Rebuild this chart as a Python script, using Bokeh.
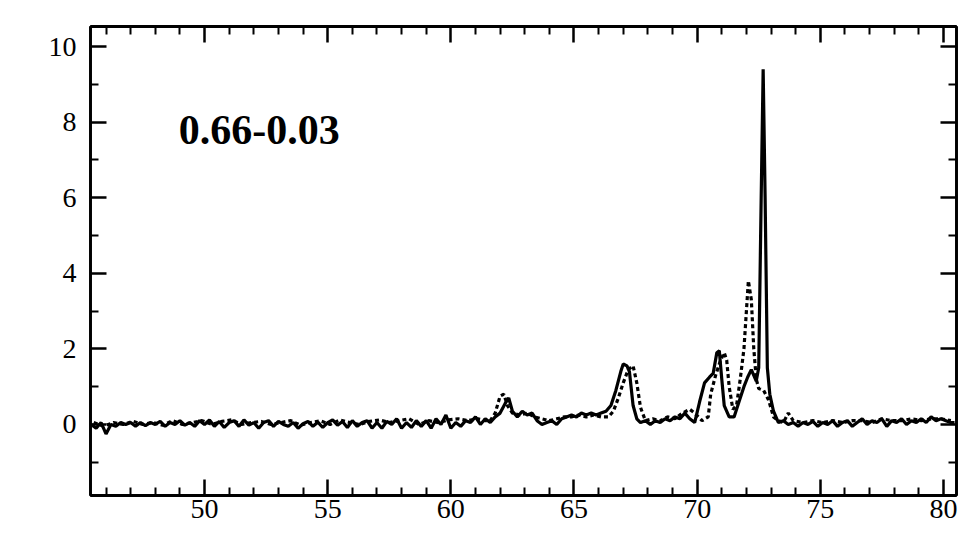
from bokeh.plotting import figure
from bokeh.models import Range1d, LinearAxis, FixedTicker, Label
from bokeh.embed import file_html
from bokeh.resources import INLINE

# ---- data ----
solid_x = [45.4, 45.6, 45.8, 46.0, 46.2, 46.4, 46.6, 46.8, 47.0, 47.2, 47.4, 47.6, 47.8, 48.0,
           48.2, 48.4, 48.6, 48.8, 49.0, 49.2, 49.4, 49.6, 49.8, 50.0, 50.2, 50.4, 50.6, 50.8,
           51.0, 51.2, 51.4, 51.6, 51.8, 52.0, 52.2, 52.4, 52.6, 52.8, 53.0, 53.2, 53.4, 53.6,
           53.8, 54.0, 54.2, 54.4, 54.6, 54.8, 55.0, 55.2, 55.4, 55.6, 55.8, 56.0, 56.2, 56.4,
           56.6, 56.8, 57.0, 57.2, 57.4, 57.6, 57.8, 58.0, 58.2, 58.4, 58.6, 58.8, 59.0, 59.2,
           59.4, 59.6, 59.8, 60.0, 60.2, 60.4, 60.6, 60.8, 61.0, 61.2, 61.4, 61.6, 61.8, 62.0,
           62.2, 62.35, 62.5, 62.7, 62.9, 63.1, 63.3, 63.5, 63.7, 63.9, 64.1, 64.3, 64.5, 64.7,
           64.9, 65.1, 65.3, 65.5, 65.7, 65.9, 66.1, 66.3, 66.5, 66.7, 66.9, 67.0, 67.15, 67.25,
           67.4, 67.55, 67.7, 67.9, 68.1, 68.3, 68.5, 68.7, 68.9, 69.1, 69.3, 69.5, 69.7, 69.9,
           70.1, 70.3, 70.5, 70.65, 70.8, 70.9, 71.0, 71.1, 71.3, 71.5, 71.7, 71.9, 72.05, 72.2,
           72.3, 72.4, 72.5, 72.6, 72.68, 72.76, 72.85, 72.95, 73.1, 73.3, 73.5, 73.7, 73.9, 74.1,
           74.3, 74.5, 74.7, 74.9, 75.1, 75.3, 75.5, 75.7, 75.9, 76.1, 76.3, 76.5, 76.7, 76.9,
           77.1, 77.3, 77.5, 77.7, 77.9, 78.1, 78.3, 78.5, 78.7, 78.9, 79.1, 79.3, 79.5, 79.7,
           79.9, 80.1, 80.3, 80.45]
solid_y = [0.0, -0.1, 0.05, -0.25, 0.0, -0.05, 0.05, 0.0, 0.05, -0.05, 0.05, -0.03, 0.05, 0.0,
           0.08, -0.05, 0.05, 0.0, 0.1, -0.02, 0.05, -0.05, 0.1, 0.0, 0.12, -0.05, 0.08, -0.08,
           0.05, 0.1, -0.05, 0.12, -0.02, 0.05, -0.1, 0.05, 0.1, -0.05, 0.08, 0.0, -0.05, 0.05,
           -0.1, 0.02, 0.08, -0.05, 0.06, -0.08, 0.05, 0.12, -0.02, 0.08, -0.08, 0.1, -0.05, 0.05,
           0.1, -0.1, 0.05, -0.1, 0.08, 0.0, 0.15, -0.1, 0.05, -0.08, 0.1, -0.05, 0.1, -0.1,
           0.15, 0.0, 0.25, -0.1, 0.05, -0.05, 0.1, 0.05, 0.2, 0.0, 0.15, 0.05, 0.2, 0.3,
           0.55, 0.7, 0.35, 0.2, 0.35, 0.25, 0.3, 0.1, 0.0, 0.05, 0.1, 0.0, 0.15, 0.2,
           0.25, 0.2, 0.3, 0.25, 0.3, 0.25, 0.3, 0.35, 0.5, 0.9, 1.4, 1.6, 1.55, 1.4,
           0.5, 0.15, 0.05, 0.1, 0.0, 0.1, 0.05, 0.15, 0.1, 0.2, 0.15, 0.3, 0.15, 0.05,
           0.6, 1.1, 1.25, 1.35, 1.9, 1.95, 1.2, 0.5, 0.2, 0.2, 0.6, 1.0, 1.25, 1.45,
           1.3, 1.15, 1.5, 6.0, 9.4, 6.0, 1.5, 0.8, 0.35, 0.05, 0.1, 0.0, 0.05, -0.05,
           0.05, 0.0, 0.08, -0.05, 0.05, 0.0, 0.1, -0.05, 0.05, 0.1, -0.05, 0.05, 0.15, 0.0,
           0.1, 0.05, 0.15, -0.05, 0.1, 0.05, 0.15, 0.0, 0.1, 0.05, 0.15, 0.05, 0.2, 0.1,
           0.15, 0.1, 0.05, 0.05]

dot_x = [45.5, 45.9, 46.3, 46.7, 47.1, 47.5, 47.9, 48.3, 48.7, 49.1, 49.5, 49.9, 50.3, 50.7,
         51.1, 51.5, 51.9, 52.3, 52.7, 53.1, 53.5, 53.9, 54.3, 54.7, 55.1, 55.5, 55.9, 56.3,
         56.7, 57.1, 57.5, 57.9, 58.3, 58.7, 59.1, 59.5, 59.9, 60.3, 60.7, 61.1, 61.4, 61.6,
         61.8, 62.0, 62.15, 62.3, 62.5, 62.8, 63.1, 63.4, 63.7, 64.0, 64.3, 64.6, 64.9, 65.2,
         65.5, 65.8, 66.1, 66.4, 66.6, 66.8, 67.0, 67.2, 67.4, 67.55, 67.7, 67.9, 68.2, 68.5,
         68.8, 69.1, 69.4, 69.7, 69.9, 70.2, 70.45, 70.55, 70.75, 70.95, 71.1, 71.2, 71.3, 71.45,
         71.6, 71.75, 71.9, 72.0, 72.08, 72.2, 72.3, 72.4, 72.5, 72.7, 72.9, 73.1, 73.3, 73.5,
         73.7, 73.9, 74.3, 74.7, 75.1, 75.5, 75.9, 76.3, 76.7, 77.1, 77.5, 77.9, 78.3, 78.7,
         79.1, 79.5, 79.9, 80.3]
dot_y = [0.05, -0.05, 0.05, 0.0, 0.08, 0.0, 0.05, -0.02, 0.1, 0.0, 0.05, 0.1, 0.0, 0.08,
         0.12, 0.0, 0.05, 0.08, 0.0, 0.05, 0.1, -0.02, 0.05, 0.1, 0.0, 0.12, 0.05, 0.0,
         0.08, 0.12, 0.05, 0.1, 0.15, 0.0, 0.1, 0.05, 0.12, 0.15, 0.1, 0.15, 0.1, 0.1,
         0.3, 0.75, 0.8, 0.5, 0.3, 0.25, 0.3, 0.2, 0.15, 0.1, 0.15, 0.2, 0.2, 0.25,
         0.2, 0.25, 0.2, 0.2, 0.35, 0.7, 1.1, 1.45, 1.55, 1.1, 0.45, 0.1, 0.15, 0.1,
         0.2, 0.15, 0.3, 0.4, 0.3, 0.1, 0.2, 0.8, 1.3, 1.7, 1.9, 1.7, 1.0, 0.4,
         0.5, 1.2, 2.0, 3.0, 3.8, 3.3, 2.0, 1.2, 0.95, 0.9, 0.65, 0.2, 0.1, 0.05,
         0.3, 0.1, 0.05, 0.1, 0.05, 0.1, 0.05, 0.1, 0.1, 0.05, 0.15, 0.1, 0.1, 0.15,
         0.1, 0.15, 0.15, 0.1]

y_major = [0, 2, 4, 6, 8, 10]
y_minor = [-1, 1, 3, 5, 7, 9]
x_major = [50, 55, 60, 65, 70, 75, 80]
x_minor = [46, 47, 48, 49, 51, 52, 53, 54, 56, 57, 58, 59, 61, 62, 63, 64,
           66, 67, 68, 69, 71, 72, 73, 74, 76, 77, 78, 79]
label_text = "0.66-0.03"

FONT = "Liberation Serif"

p = figure(width=960, height=535, output_backend="svg", toolbar_location=None,
           x_range=Range1d(45.37, 80.53), y_range=Range1d(-1.88, 10.53),
           x_axis_location=None, y_axis_location=None,
           min_border_left=90, min_border_right=4, min_border_top=26, min_border_bottom=40)
p.xgrid.visible = False
p.ygrid.visible = False
p.outline_line_color = "black"
p.outline_line_width = 2.5
p.background_fill_color = "white"
p.border_fill_color = "white"


def style(ax, major, minor, labels):
    ax.ticker = FixedTicker(ticks=major, minor_ticks=minor)
    ax.axis_line_width = 2.8
    ax.axis_line_color = "black"
    ax.major_tick_in = 16
    ax.major_tick_out = 0
    ax.minor_tick_in = 8
    ax.minor_tick_out = 0
    ax.major_tick_line_width = 2.5
    ax.minor_tick_line_width = 2
    ax.major_label_text_font = FONT
    ax.major_label_text_font_size = "28px"
    ax.major_label_text_color = "black" if labels else None
    ax.major_label_standoff = 14


left = LinearAxis()
style(left, y_major, y_minor, True)
p.add_layout(left, "left")
right = LinearAxis()
style(right, y_major, y_minor, False)
p.add_layout(right, "right")
bottom = LinearAxis()
style(bottom, x_major, x_minor, True)
bottom.major_label_standoff = 4
p.add_layout(bottom, "below")
top = LinearAxis()
style(top, x_major, x_minor, False)
p.add_layout(top, "above")
right.major_label_text_font_size = "0px"
top.major_label_text_font_size = "0px"

p.line(dot_x, dot_y, line_color="black", line_width=3.2, line_dash="4 3")
p.line(solid_x, solid_y, line_color="black", line_width=3.2)

p.add_layout(Label(x=48.95, y=7.78, text=label_text, text_font=FONT, text_font_size="42px",
                   text_font_style="bold", text_baseline="middle", text_align="left",
                   text_color="black"))

open("out.html", "w").write(file_html(p, INLINE))
